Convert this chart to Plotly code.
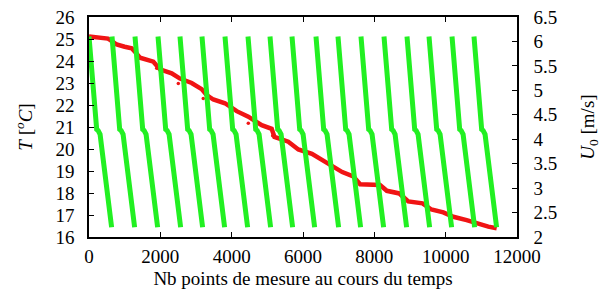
import plotly.graph_objects as go

# --- Data -------------------------------------------------------------------
# Temperature (left axis) vs number of measurement points
sample_idx = [0, 300, 530, 600, 775, 1000, 1196, 1300, 1430, 1804, 1990, 2318,
              2551, 2878, 3159, 3300, 3486, 3813, 4141, 4467, 4842, 5122, 5200,
              5588, 5869, 6250, 6690, 7100, 7411, 7600, 8159, 8350, 8700, 8953,
              9350, 9600, 9934, 10214, 10588, 10869, 11195, 11431]
temperature = [25.12, 25.08, 25.02, 24.95, 24.75, 24.65, 24.58, 24.40, 24.15,
               23.97, 23.62, 23.44, 23.20, 23.00, 22.72, 22.45, 22.25, 22.08,
               21.72, 21.47, 21.08, 20.92, 20.55, 20.33, 19.98, 19.78, 19.38,
               18.95, 18.75, 18.40, 18.36, 18.10, 17.98, 17.62, 17.53, 17.25,
               17.12, 16.92, 16.77, 16.62, 16.47, 16.40]
# a few isolated temperature points below the main band
temp_out_idx = [1898, 2504, 3204, 4467, 5150]
temp_out_val = [23.67, 22.98, 22.30, 21.17, 20.60]

# Velocity U0 (right axis): repeated ramps
cycle_starts = [0, 645, 1290, 1935, 2551, 3168, 3813, 4458, 5075, 5692, 6364,
                6981, 7626, 8271, 8916, 9533, 10178, 10794]
cycle_length = 634
u0_frac = [0.0, 0.27, 0.30, 0.34, 0.40, 0.45, 0.49, 1.0]
u0_vals = [6.10, 4.32, 4.24, 4.20, 4.18, 4.15, 4.10, 2.20]

x_ticks = [0, 2000, 4000, 6000, 8000, 10000, 12000]
y1_ticks = [16, 17, 18, 19, 20, 21, 22, 23, 24, 25, 26]
y2_ticks = [2, 2.5, 3, 3.5, 4, 4.5, 5, 5.5, 6, 6.5]

# --- Build green polyline (gaps between cycles) -----------------------------
gx, gy = [], []
for s in cycle_starts:
    for f, v in zip(u0_frac, u0_vals):
        gx.append(s + f * cycle_length)
        gy.append(v)
    gx.append(None)
    gy.append(None)

RED = "#f01414"
GREEN = "#22f022"
FONT = "Liberation Serif"

fig = go.Figure()
fig.add_trace(go.Scatter(x=sample_idx, y=temperature, mode="lines",
                         line=dict(color=RED, width=4.5), yaxis="y",
                         showlegend=False))
fig.add_trace(go.Scatter(x=temp_out_idx, y=temp_out_val, mode="markers",
                         marker=dict(color=RED, size=3.5), yaxis="y",
                         showlegend=False))
fig.add_trace(go.Scatter(x=gx, y=gy, mode="lines",
                         line=dict(color=GREEN, width=5), yaxis="y2",
                         connectgaps=False, showlegend=False))

axis_common = dict(showline=True, linecolor="black", linewidth=1.5,
                   ticks="inside", ticklen=5, tickcolor="black",
                   showgrid=False, zeroline=False,
                   tickfont=dict(family=FONT, size=19, color="black"))

fig.update_layout(
    width=601, height=297,
    margin=dict(l=89, r=84, t=17, b=60, autoexpand=False),
    paper_bgcolor="white", plot_bgcolor="white",
    font=dict(family=FONT, size=19, color="black"),
    xaxis=dict(range=[0, 12000], tickvals=x_ticks,
               ticktext=[str(v) for v in x_ticks], mirror="ticks",
               ticklabelstandoff=1,
               title=dict(text="Nb points de mesure au cours du temps",
                          font=dict(family=FONT, size=19), standoff=6),
               **axis_common),
    yaxis=dict(range=[16, 26], tickvals=y1_ticks,
               ticktext=[str(v) for v in y1_ticks],
               ticklabelstandoff=9,
               title=dict(text="<i>T</i> [<sup><i>o</i></sup><i>C</i>]",
                          font=dict(family=FONT, size=19), standoff=18),
               **axis_common),
    yaxis2=dict(range=[2, 6.5], tickvals=y2_ticks,
                ticktext=[f"{v:g}" for v in y2_ticks],
                overlaying="y", side="right",
                ticklabelstandoff=11,
                title=dict(text="<i>U</i><sub>0</sub> [m/s]",
                           font=dict(family=FONT, size=19), standoff=26),
                **axis_common),
)

fig.write_html("out.html",
               config={"displayModeBar": False},
               post_script="document.body.style.margin='0';")
